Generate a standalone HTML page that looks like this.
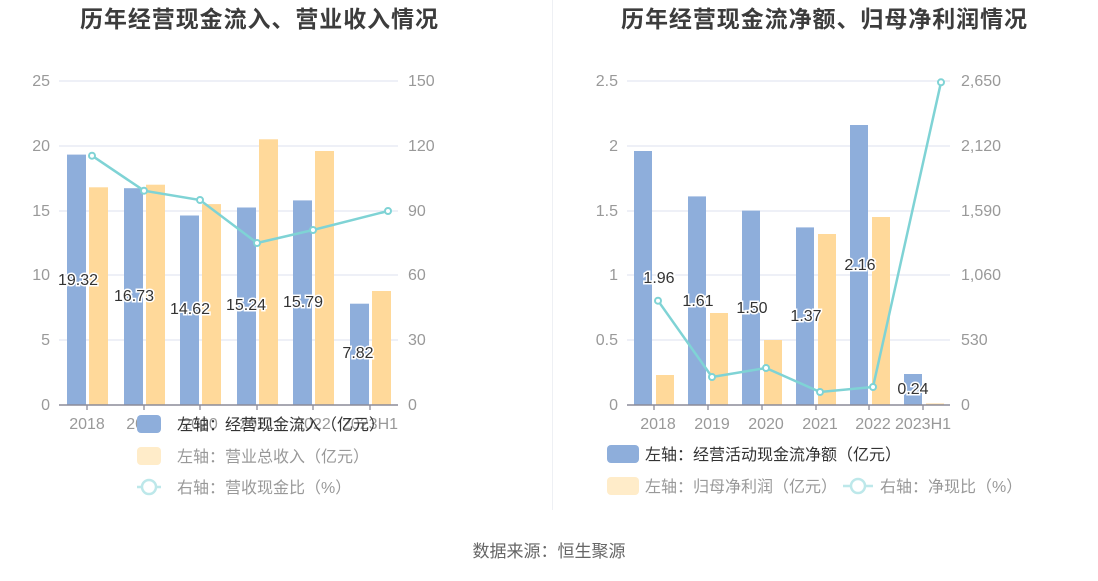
<!DOCTYPE html>
<html><head><meta charset="utf-8"><style>
body{margin:0;background:#fff}
text{font-family:"Liberation Sans","Noto Sans CJK SC",sans-serif}
</style></head><body>
<svg width="1098" height="576" viewBox="0 0 1098 576" xmlns="http://www.w3.org/2000/svg">
<rect width="1098" height="576" fill="#fff"/>
<line x1="552.5" y1="0" x2="552.5" y2="510" stroke="#eef0f4"/>
<text x="259" y="27" font-size="23" font-weight="bold" fill="#3c3c3c" text-anchor="middle" textLength="358">历年经营现金流入、营业收入情况</text>
<text x="824" y="27" font-size="23" font-weight="bold" fill="#3c3c3c" text-anchor="middle" textLength="406">历年经营现金流净额、归母净利润情况</text>

<!-- LEFT CHART -->
<g stroke="#e3e7f2" stroke-width="1.3">
<line x1="59" y1="81" x2="398" y2="81"/><line x1="59" y1="146" x2="398" y2="146"/>
<line x1="59" y1="211" x2="398" y2="211"/><line x1="59" y1="275" x2="398" y2="275"/>
<line x1="59" y1="340" x2="398" y2="340"/>
</g>
<g font-size="16" fill="#999" text-anchor="end">
<text x="50" y="86">25</text><text x="50" y="151">20</text><text x="50" y="216">15</text><text x="50" y="280">10</text><text x="50" y="345">5</text><text x="50" y="410">0</text>
</g>
<g font-size="16" fill="#999" text-anchor="start">
<text x="408" y="86">150</text><text x="408" y="151">120</text><text x="408" y="216">90</text><text x="408" y="280">60</text><text x="408" y="345">30</text><text x="408" y="410">0</text>
</g>
<g fill="#8eaedb">
<rect x="67" y="154.6" width="19" height="250.4"/><rect x="124" y="188.2" width="19" height="216.8"/>
<rect x="180" y="215.5" width="19" height="189.5"/><rect x="237" y="207.5" width="19" height="197.5"/>
<rect x="293" y="200.4" width="19" height="204.6"/><rect x="350" y="303.7" width="19" height="101.3"/>
</g>
<g fill="#ffd99a">
<rect x="89" y="187.3" width="19" height="217.7"/><rect x="146" y="184.7" width="19" height="220.3"/>
<rect x="202" y="204.1" width="19" height="200.9"/><rect x="259" y="139.3" width="19" height="265.7"/>
<rect x="315" y="151" width="19" height="254"/><rect x="372" y="291" width="19" height="114"/>
</g>
<line x1="59" y1="405" x2="398" y2="405" stroke="#8c8c99" stroke-width="1.5"/>
<g stroke="#8c8c99" stroke-width="1.3"><line x1="87" y1="405" x2="87" y2="410"/><line x1="144" y1="405" x2="144" y2="410"/><line x1="200" y1="405" x2="200" y2="410"/><line x1="257" y1="405" x2="257" y2="410"/><line x1="313" y1="405" x2="313" y2="410"/><line x1="370" y1="405" x2="370" y2="410"/></g>
<g font-size="16" fill="#999" text-anchor="middle">
<text x="87" y="429">2018</text><text x="144" y="429">2019</text><text x="200" y="429">2020</text><text x="257" y="429">2021</text><text x="313" y="429">2022</text><text x="370" y="429">2023H1</text>
</g>
<polyline points="92,155.7 144,190.7 200,200 257,243 313,230 388,211" fill="none" stroke="#7fd3d5" stroke-width="2.5"/>
<g fill="#fff" stroke="#7fd3d5" stroke-width="2"><circle cx="92" cy="155.7" r="3"/><circle cx="144" cy="190.7" r="3"/><circle cx="200" cy="200" r="3"/><circle cx="257" cy="243" r="3"/><circle cx="313" cy="230" r="3"/><circle cx="388" cy="211" r="3"/></g>
<g font-size="16" fill="#333" text-anchor="middle" stroke="#fff" stroke-width="3" paint-order="stroke">
<text x="78" y="285">19.32</text><text x="134" y="301">16.73</text><text x="190" y="314">14.62</text><text x="246" y="310">15.24</text><text x="303" y="307">15.79</text><text x="358" y="358">7.82</text>
</g>
<rect x="137" y="415" width="24" height="18" rx="4" fill="#8eaedb"/>
<text x="177" y="430" font-size="16" fill="#333">左轴：经营现金流入（亿元）</text>
<rect x="137" y="447" width="24" height="18" rx="4" fill="#ffecc9"/>
<text x="177" y="462" font-size="16" fill="#999">左轴：营业总收入（亿元）</text>
<line x1="137" y1="487" x2="161" y2="487" stroke="#bde8ea" stroke-width="2.5"/>
<circle cx="149" cy="487" r="7" fill="#fff" stroke="#bde8ea" stroke-width="2.5"/>
<text x="177" y="493" font-size="16" fill="#999">右轴：营收现金比（%）</text>

<!-- RIGHT CHART -->
<g stroke="#e3e7f2" stroke-width="1.3">
<line x1="627" y1="81" x2="950" y2="81"/><line x1="627" y1="146" x2="950" y2="146"/>
<line x1="627" y1="211" x2="950" y2="211"/><line x1="627" y1="275" x2="950" y2="275"/>
<line x1="627" y1="340" x2="950" y2="340"/>
</g>
<g font-size="16" fill="#999" text-anchor="end">
<text x="618" y="86">2.5</text><text x="618" y="151">2</text><text x="618" y="216">1.5</text><text x="618" y="280">1</text><text x="618" y="345">0.5</text><text x="618" y="410">0</text>
</g>
<g font-size="16" fill="#999" text-anchor="start">
<text x="961" y="86">2,650</text><text x="961" y="151">2,120</text><text x="961" y="216">1,590</text><text x="961" y="280">1,060</text><text x="961" y="345">530</text><text x="961" y="410">0</text>
</g>
<g fill="#8eaedb">
<rect x="634" y="151" width="18" height="254"/><rect x="688" y="196.4" width="18" height="208.6"/>
<rect x="742" y="210.6" width="18" height="194.4"/><rect x="796" y="227.4" width="18" height="177.6"/>
<rect x="850" y="125" width="18" height="280"/><rect x="904" y="374" width="18" height="31"/>
</g>
<g fill="#ffd99a">
<rect x="656" y="375" width="18" height="30"/><rect x="710" y="313" width="18" height="92"/>
<rect x="764" y="340" width="18" height="65"/><rect x="818" y="234" width="18" height="171"/>
<rect x="872" y="217" width="18" height="188"/><rect x="926" y="403.5" width="18" height="1.5"/>
</g>
<line x1="627" y1="405" x2="950" y2="405" stroke="#8c8c99" stroke-width="1.5"/>
<g stroke="#8c8c99" stroke-width="1.3"><line x1="654" y1="405" x2="654" y2="410"/><line x1="708" y1="405" x2="708" y2="410"/><line x1="762" y1="405" x2="762" y2="410"/><line x1="816" y1="405" x2="816" y2="410"/><line x1="869" y1="405" x2="869" y2="410"/><line x1="923" y1="405" x2="923" y2="410"/></g>
<g font-size="16" fill="#999" text-anchor="middle">
<text x="658" y="429">2018</text><text x="712" y="429">2019</text><text x="766" y="429">2020</text><text x="820" y="429">2021</text><text x="873" y="429">2022</text><text x="923" y="429">2023H1</text>
</g>
<polyline points="658,300.7 712,377 766,368 820,392 873,387 941,82.3" fill="none" stroke="#7fd3d5" stroke-width="2.5"/>
<g fill="#fff" stroke="#7fd3d5" stroke-width="2"><circle cx="658" cy="300.7" r="3"/><circle cx="712" cy="377" r="3"/><circle cx="766" cy="368" r="3"/><circle cx="820" cy="392" r="3"/><circle cx="873" cy="387" r="3"/><circle cx="941" cy="82.3" r="3"/></g>
<g font-size="16" fill="#333" text-anchor="middle" stroke="#fff" stroke-width="3" paint-order="stroke">
<text x="659" y="283">1.96</text><text x="698" y="306">1.61</text><text x="752" y="313">1.50</text><text x="806" y="321">1.37</text><text x="860" y="270">2.16</text><text x="913" y="394">0.24</text>
</g>
<rect x="607" y="445" width="32" height="18" rx="4" fill="#8eaedb"/>
<text x="645" y="460" font-size="16" fill="#333">左轴：经营活动现金流净额（亿元）</text>
<rect x="607" y="477" width="32" height="18" rx="4" fill="#ffecc9"/>
<text x="645" y="492" font-size="16" fill="#999">左轴：归母净利润（亿元）</text>
<line x1="843" y1="486" x2="873" y2="486" stroke="#bde8ea" stroke-width="2.5"/>
<circle cx="858" cy="486" r="7" fill="#fff" stroke="#bde8ea" stroke-width="2.5"/>
<text x="880" y="492" font-size="16" fill="#999">右轴：净现比（%）</text>

<text x="549" y="557" font-size="17" fill="#666" text-anchor="middle">数据来源：恒生聚源</text>
</svg>
</body></html>
